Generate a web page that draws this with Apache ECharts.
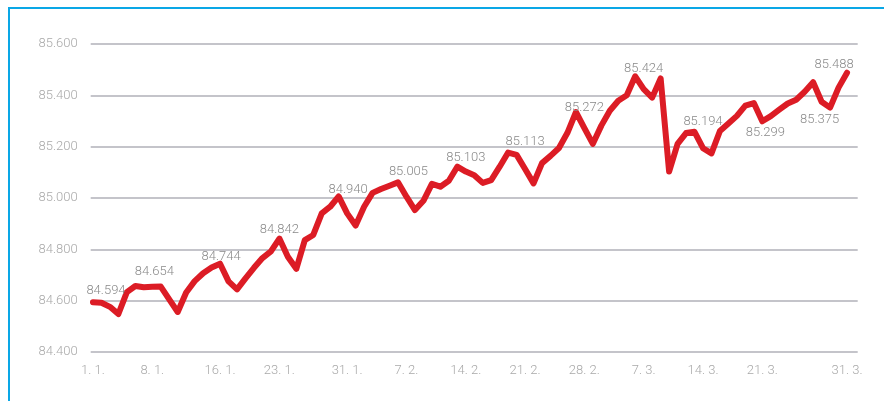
<!DOCTYPE html>
<html>
<head>
<meta charset="utf-8">
<script src="https://cdn.jsdelivr.net/npm/echarts@6/dist/echarts.min.js"></script>
<style>
  html, body { margin: 0; padding: 0; background: #ffffff; }
  #frame { position: absolute; left: 8px; top: 7px; width: 876px; height: 394px;
           border-top: 2px solid #0aa7e6; border-left: 2px solid #0aa7e6; box-sizing: border-box; }
  #chart { position: absolute; left: 0; top: 0; width: 884px; height: 401px; }
</style>
</head>
<body>
<div id="frame"></div>
<div id="chart"></div>
<script>
// Daily values, 1. 1. to 31. 3. (90 days)
var values = [
  84.594, 84.592, 84.576, 84.548, 84.633, 84.657, 84.652, 84.654, 84.655, 84.605,
  84.556, 84.632, 84.676, 84.707, 84.729, 84.744, 84.675, 84.644, 84.687, 84.728,
  84.766, 84.792, 84.842, 84.771, 84.724, 84.836, 84.856, 84.940, 84.966, 85.006,
  84.940, 84.893, 84.966, 85.020, 85.035, 85.048, 85.061, 85.005, 84.953, 84.989,
  85.055, 85.044, 85.067, 85.122, 85.103, 85.089, 85.059, 85.070, 85.122, 85.177,
  85.168, 85.113, 85.057, 85.136, 85.164, 85.195, 85.254, 85.335, 85.272, 85.211,
  85.282, 85.340, 85.379, 85.400, 85.474, 85.424, 85.391, 85.466, 85.103, 85.211,
  85.253, 85.258, 85.194, 85.174, 85.261, 85.290, 85.320, 85.360, 85.370, 85.299,
  85.319, 85.344, 85.368, 85.383, 85.414, 85.451, 85.375, 85.352, 85.430, 85.488
];
// x-axis tick positions (day index) and their labels
var tickIndex = [0, 7, 15, 22, 30, 37, 44, 51, 58, 65, 72, 79, 89];
var tickLabels = ['1. 1.', '8. 1.', '16. 1.', '23. 1.', '31. 1.', '7. 2.', '14. 2.', '21. 2.', '28. 2.', '7. 3.', '14. 3.', '21. 3.', '31. 3.'];
// labelled points (day index)
var labelIndex = [0, 7, 15, 22, 30, 37, 44, 51, 58, 65, 72, 79, 86, 89];
var labelOffsets = [[13, -11], [2, -15], [1, -7], [0, -9], [1, -24], [2, -25], [0, -14], [0, -27], [0, -20], [0, -20], [0, -26], [3, 11], [-2, 18], [-13, -8]];

var data = values.map(function (v, i) {
  var k = labelIndex.indexOf(i);
  var item = { value: [i, v] };
  if (k >= 0) {
    item.label = { show: true, position: 'inside', offset: labelOffsets[k] };
  }
  return item;
});

var chart = echarts.init(document.getElementById('chart'));
chart.setOption({
  animation: false,
  grid: { left: 90.7, right: 26.3, top: 44, bottom: 49 },
  xAxis: {
    type: 'value',
    min: -0.27,
    max: 90.26,
    axisLine: { show: false },
    axisTick: { show: false },
    splitLine: { show: false },
    axisLabel: {
      customValues: tickIndex,
      color: '#a9a9a9',
      fontFamily: 'Roboto',
      fontWeight: 300,
      fontSize: 13,
      margin: 12,
      formatter: function (v) {
        var k = tickIndex.indexOf(Math.round(v));
        return k >= 0 ? tickLabels[k] : '';
      }
    }
  },
  yAxis: {
    type: 'value',
    min: 84.4,
    max: 85.6,
    interval: 0.2,
    axisLine: { show: false },
    axisTick: { show: false },
    splitLine: { lineStyle: { color: '#c4c4ca', width: 2 } },
    axisLabel: {
      color: '#a9a9a9',
      fontFamily: 'Roboto',
      fontWeight: 300,
      fontSize: 13,
      margin: 13,
      formatter: function (v) { return v.toFixed(3); }
    }
  },
  series: [{
    type: 'line',
    data: data,
    showSymbol: true,
    symbol: 'circle',
    symbolSize: 1,
    itemStyle: { color: 'rgba(220,28,37,0)' },
    lineStyle: { color: '#dc1c25', width: 6, join: 'round', cap: 'round' },
    label: {
      show: false,
      color: '#8a8a8a',
      fontFamily: 'Roboto',
      fontWeight: 300,
      fontSize: 13,
      formatter: function (p) { return p.value[1].toFixed(3); }
    }
  }]
});
</script>
</body>
</html>
